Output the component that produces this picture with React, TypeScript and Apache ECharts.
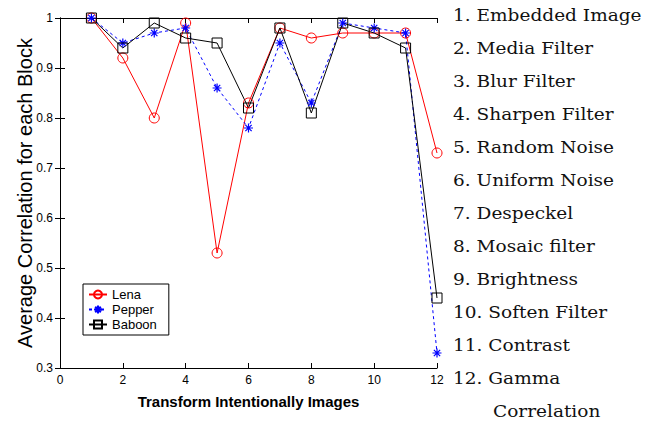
import React, { useEffect, useRef } from "react";
import * as echarts from "echarts";

const transformIndex = [1, 2, 3, 4, 5, 6, 7, 8, 9, 10, 11, 12];
const lena = [1.0, 0.92, 0.8, 0.99, 0.53, 0.83, 0.98, 0.96, 0.97, 0.97, 0.97, 0.73];
const pepper = [1.0, 0.95, 0.97, 0.98, 0.86, 0.78, 0.95, 0.83, 0.99, 0.98, 0.97, 0.33];
const baboon = [1.0, 0.94, 0.99, 0.96, 0.95, 0.82, 0.98, 0.81, 0.99, 0.97, 0.94, 0.44];
const transformNames = [
  "Embedded Image",
  "Media Filter",
  "Blur Filter",
  "Sharpen Filter",
  "Random Noise",
  "Uniform Noise",
  "Despeckel",
  "Mosaic filter",
  "Brightness",
  "Soften Filter",
  "Contrast",
  "Gamma\nCorrelation",
];

const ASTERISK = "path://M5 0L5 10M0 5L10 5M1.5 1.5L8.5 8.5M8.5 1.5L1.5 8.5";

export default function App() {
  const ref = useRef<HTMLDivElement>(null);
  useEffect(() => {
    if (!ref.current) return;
    const chart = echarts.init(ref.current, null, { renderer: "svg" });
    const pairs = (vals: number[]) => transformIndex.map((x, i) => [x, vals[i]]);
    const tickFont = { color: "#000", fontSize: 12, fontFamily: "Liberation Sans" };
    const axisLine = { show: true, lineStyle: { color: "#000", width: 1 } };
    const axisTick = { show: true, inside: true, length: 5, lineStyle: { color: "#000" } };
    const listStyle = { fontFamily: "DejaVu Serif", fontSize: 17, fill: "#111", verticalAlign: "middle" };
    const listTexts: any[] = [];
    transformNames.forEach((n, i) => {
      const parts = n.split("\n");
      listTexts.push({
        type: "text",
        x: 453,
        y: 15 + i * 33,
        scaleX: 1.09,
        style: { ...listStyle, text: `${i + 1}. ${parts[0]}` },
      });
      if (parts[1]) {
        listTexts.push({
          type: "text",
          x: 493,
          y: 15 + (i + 1) * 33,
          scaleX: 1.09,
          style: { ...listStyle, text: parts[1] },
        });
      }
    });
    chart.setOption({
      animation: false,
      backgroundColor: "#fff",
      grid: { left: 60, top: 18, width: 377, height: 350 },
      xAxis: [
        {
          type: "value",
          min: 0,
          max: 12,
          interval: 2,
          position: "bottom",
          axisLine,
          axisTick,
          splitLine: { show: false },
          axisLabel: { ...tickFont, margin: 6 },
          name: "Transform Intentionally Images",
          nameLocation: "middle",
          nameGap: 26,
          nameMoveOverlap: false,
          nameTextStyle: { color: "#000", fontSize: 15, fontWeight: "bold", fontFamily: "Liberation Sans" },
        },
        {
          type: "value",
          min: 0,
          max: 12,
          interval: 2,
          position: "top",
          axisLine,
          axisTick,
          splitLine: { show: false },
          axisLabel: { show: false },
        },
      ],
      yAxis: [
        {
          type: "value",
          min: 0.3,
          max: 1,
          interval: 0.1,
          position: "left",
          axisLine,
          axisTick,
          splitLine: { show: false },
          axisLabel: { ...tickFont, margin: 7 },
          name: "Average Correlation for each Block",
          nameLocation: "middle",
          nameRotate: 90,
          nameGap: 25,
          nameMoveOverlap: false,
          nameTextStyle: { color: "#000", fontSize: 20, fontFamily: "Liberation Sans" },
        },
        {
          type: "value",
          min: 0.3,
          max: 1,
          interval: 0.1,
          position: "right",
          axisLine,
          axisTick,
          splitLine: { show: false },
          axisLabel: { show: false },
        },
      ],
      legend: {
        orient: "vertical",
        left: 83,
        top: 284,
        width: 70,
        padding: [4, 12, 4, 5],
        itemGap: 2,
        itemWidth: 18,
        itemHeight: 10,
        borderColor: "#000",
        borderWidth: 1,
        backgroundColor: "#fff",
        textStyle: { color: "#000", fontSize: 13, fontFamily: "Liberation Sans" },
        data: ["Lena", "Pepper", "Baboon"],
      },
      series: [
        {
          name: "Lena",
          type: "line",
          data: pairs(lena),
          symbol: "circle",
          symbolSize: 10,
          itemStyle: { color: "rgba(255,255,255,0)", borderColor: "#ff0000", borderWidth: 1 },
          lineStyle: { color: "#ff0000", width: 1 },
        },
        {
          name: "Pepper",
          type: "line",
          data: pairs(pepper),
          symbol: ASTERISK,
          symbolSize: 9,
          itemStyle: { color: "#0000ff", borderColor: "#0000ff", borderWidth: 1.2 },
          lineStyle: { color: "#0000ff", width: 1, type: [3, 3] },
        },
        {
          name: "Baboon",
          type: "line",
          data: pairs(baboon),
          symbol: "rect",
          symbolSize: 10,
          itemStyle: { color: "rgba(255,255,255,0)", borderColor: "#000", borderWidth: 1 },
          lineStyle: { color: "#000", width: 1 },
        },
      ],
      graphic: listTexts,
    });
    return () => chart.dispose();
  }, []);
  return (
    <div
      ref={ref}
      style={{ position: "fixed", left: 0, top: 0, width: 662, height: 421 }}
    />
  );
}
